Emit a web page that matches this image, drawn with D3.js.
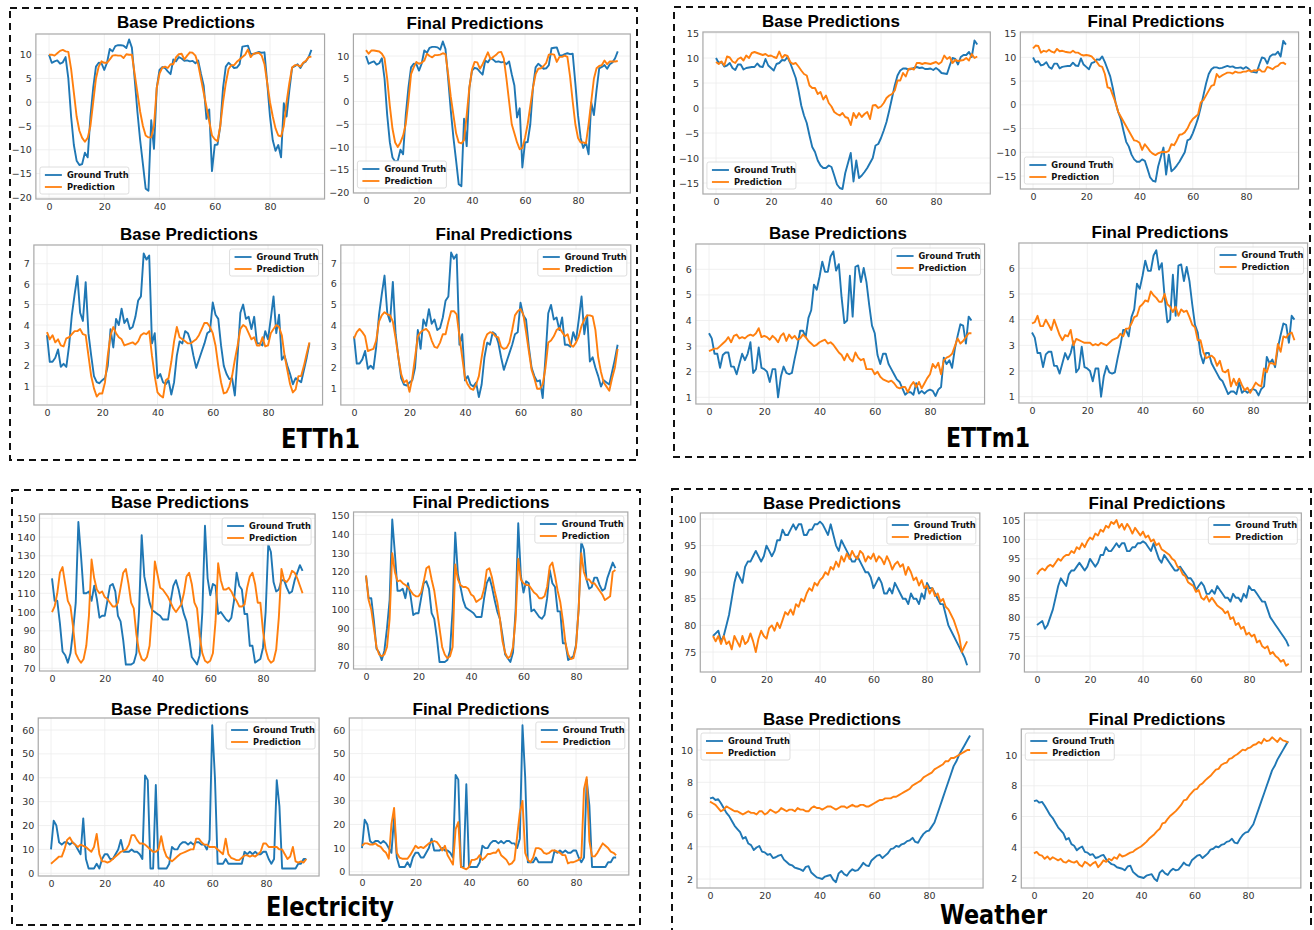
<!DOCTYPE html>
<html>
<head>
<meta charset="utf-8">
<script src="https://cdn.jsdelivr.net/npm/d3@7"></script>
<style>
body { margin: 0; background: #fff; }
svg text { font-family: "DejaVu Sans", sans-serif; }
</style>
</head>
<body>
<svg id="fig" width="1314" height="930"></svg>
<script>
// ---- ETTh1 ----
var etth1Truth1 = [10,8.3,8.6,8.8,8.1,8.4,9.5,5,-3,-9,
  -12.3,-13.2,-13,-10.6,-11.6,-3,3,7.5,8.3,8.2,
  6.8,8.3,11.2,10.7,11.8,12,12,11.9,11.4,13.2,
  11.5,5,-2,-8,-13,-18.2,-18.6,-3.8,-9.8,3,
  6.8,7.4,7.2,6.5,5.9,9,8.6,9.5,9.2,8.7,
  8.8,8.6,8.7,8.2,8.8,6,3.5,-3.5,-1.5,-14.5,
  -9,-8.9,-5,3,7.5,8.3,7.8,7.2,7.3,8,
  11.7,11.8,11.9,10.2,10.1,10.4,10.6,10.4,10.5,4,
  -3,-8,-10.2,-9,-11.6,-0.2,-3,2.5,7.3,7.6,
  8,7.2,8.2,8.6,9.5,11];
var etth1Base1 = [10,10,9.8,10.3,10.8,11,10.7,10.6,7,2,
  -3,-6,-7.5,-8.3,-7.5,-5,0,5,7.5,8.6,
  8.3,8.3,9,9.8,9.9,9.8,9.8,9.3,10.1,10,
  10,6,2,-2,-5,-7,-7.4,-7.4,-5,3,
  6,7.3,7.5,7.2,8,8,9.5,10.1,10.2,9,
  9.8,10.5,10.4,9.8,8,5,2,-1,-4,-7,
  -7.8,-8.2,-5,0,4,7,7.8,7.8,8.5,9,
  9.5,10,11.1,9.5,10.2,10.3,10.4,9.8,8,4,
  0,-3,-5.5,-7,-7.2,-5,0,4,7.3,7.8,
  7.8,7.5,8.3,8.7,9.5,9.6];
var etth1Final1 = [11.3,10.5,11.2,11.2,11.1,11,10.5,9.5,5,-1,
  -6,-9,-10,-9,-7.5,-5,0,6,7.5,8.7,
  8.3,8.5,9,10.5,10,9.7,10.2,10.2,10.3,10.6,
  10.4,6,1,-3,-7,-9,-9.2,-8.5,-3,3,
  7,8.7,8.6,7.2,8.2,9.5,10.8,9.3,9.8,10.2,
  10.8,10.9,9.5,5,0,-5,-7,-9,-10.5,-10.2,
  -8,-5,-1,3,6,7.2,7.3,7.8,8.5,10.3,
  10.4,10.3,8.7,9.8,9.8,10.1,9.8,5.5,0,-5,
  -8,-9,-9,-9.2,-5,0,5,7.3,7.8,8,
  9,8.2,8.8,8.8,8.8,8.9];
var etth1Truth2 = [3.5,2.2,2.2,2.4,2.8,1.95,2.1,1.95,3.0,4.5,
  5.5,6.4,4.6,4.2,6.1,3.6,2.5,1.5,1.2,1.15,
  1.3,1.4,2.0,3.8,2.9,4.3,4.0,4.8,4.1,4.3,
  3.8,3.9,4.4,5.2,5.4,7.5,7.2,7.4,3.1,3.6,
  1.4,1.6,1.2,1.1,1.3,0.6,1.2,2.5,3.2,3.1,
  3.7,3.6,3.2,2.5,1.9,2.3,2.7,3.1,3.6,3.7,
  5.1,4.5,4.3,3.0,2.0,1.6,1.35,1.4,0.55,2.5,
  4.6,5.0,4.3,4.4,3.8,4.4,3.1,3.1,3.0,3.7,
  3.3,4.3,5.4,3.6,4.5,2.3,2.5,2.0,1.6,1.1,
  1.4,1.3,1.2,1.8,2.4,3.1];
var etth1Base2 = [3.65,3.3,3.5,3.15,3.3,3.0,2.95,3.35,3.4,3.55,
  3.7,3.7,3.8,3.55,3.5,2.5,1.5,0.9,0.5,0.65,
  0.65,1.2,2.5,3.5,3.9,3.6,3.4,3.3,3.0,3.05,
  3.1,3.15,3.05,3.2,3.5,3.6,3.55,3.7,2.5,1.5,
  0.7,0.55,0.45,1.3,1.4,2.2,3.2,3.9,3.4,3.3,
  3.2,3.1,3.1,3.2,3.3,3.5,3.8,4.1,4.1,3.9,
  3.6,3.0,2.0,1.2,0.65,0.7,1.0,1.5,2.3,3.0,
  3.8,4.0,3.9,3.6,3.3,3.4,3.0,3.0,3.4,2.95,
  3.0,3.6,3.8,4.0,3.9,3.5,2.5,1.8,1.1,0.7,
  0.85,1.5,1.5,2.0,2.6,3.15];
var etth1Final2 = [3.4,3.7,3.85,3.7,3.5,2.8,2.85,2.9,3.3,4.2,
  4.5,4.65,4.55,4.5,4.2,3.4,2.5,1.7,1.3,1.4,
  0.85,1.5,2.5,3.5,3.7,3.8,3.85,3.7,3.3,3.0,
  2.95,3.2,3.6,3.6,4.2,4.7,4.7,4.55,3.5,2.5,
  1.5,1.2,1.0,0.95,1.2,1.6,2.5,3.3,3.6,3.7,
  3.65,3.5,3.45,3.0,2.9,2.95,3.2,3.8,4.5,4.7,
  4.8,4.55,3.7,2.8,1.9,1.5,1.0,1.0,1.2,2.0,
  3.2,3.3,3.5,3.8,3.9,3.7,3.5,3.6,3.1,3.0,
  3.2,3.5,4.0,4.3,4.5,4.5,4.45,3.8,2.5,1.8,
  1.3,1.1,0.9,1.5,2.0,2.9];

// ---- ETTm1 ----
var ettm1Truth1 = [10,9,9.2,8.3,8.5,9,8,7.6,8.7,8.7,
  7.7,8.0,8.1,8.2,8.2,8.9,8.3,8.2,9.8,8.5,
  8.0,7.5,8.8,9.0,9.6,9.5,10.2,9.0,7.5,6.0,
  3.5,0.5,-1.5,-3.0,-5.5,-7.8,-8.8,-10.5,-11.5,-12.0,
  -12.0,-11.5,-11.8,-13.5,-15.3,-16,-16.2,-13,-11,-9,
  -14.7,-10.5,-14,-13.5,-12.8,-12,-11,-10,-7.5,-7.2,
  -6,-4.5,-2.8,-0.5,2,4.5,6.5,7.5,7.9,7.9,
  7.7,7.8,8.0,8.2,8.0,8.1,7.8,7.8,7.9,7.6,
  8.0,7.6,7.0,6.9,6.8,8.5,10,9.8,8.7,10.2,
  10.6,10.6,11.2,10.2,13.5,12.7];
var ettm1Base1 = [9.2,8.8,9.3,8.5,10.3,10.1,9.3,9.0,9.8,10.1,
  9.5,10.5,10.0,11.0,11.2,11.0,10.8,10.6,10.8,10.4,
  10.5,10.2,10.0,11.3,10.0,10.6,10.4,9.2,8.8,9.0,
  8.3,7.5,6.8,6.5,4.5,4.0,4.0,2.8,3.2,1.7,
  2.5,1.0,0.3,-0.8,-1.2,-1.5,-1.0,-1.8,-2.0,-3.4,
  -1.0,-2.0,-1.0,-1.8,-1.2,-0.8,-2.2,0.5,0.6,0.0,
  0.3,1.0,2.0,2.5,2.8,3.5,5.5,5.5,7.0,6.3,
  7.8,7.9,7.7,9.0,9.0,8.8,9.0,8.9,8.8,9.0,
  9.2,8.8,9.2,10.5,9.8,10.2,9.0,9.6,9.4,9.5,
  9.6,10.0,9.5,10.8,10.0,10.3];
var ettm1Final1 = [11.9,12.5,12.4,11.0,11.4,11.2,11.6,11.2,11.0,11.8,
  11.3,11.4,11.2,11.1,11.0,11.4,11.0,11.0,10.6,10.4,
  10.5,10.4,10.2,9.6,9.0,8.2,8.0,6.5,3.7,3.5,
  2.0,0.5,-1.5,-2.5,-3.5,-4.5,-5.5,-6.5,-7.5,-7.6,
  -8.0,-9.5,-8.3,-9.0,-9.8,-10.3,-10.6,-10.2,-10.0,-9.9,
  -10.0,-9.7,-8.3,-8.5,-7.5,-6.3,-6.2,-5.8,-5.0,-3.8,
  -3.0,-2.5,-2.0,0.5,1.0,2.0,3.0,4.0,4.2,6.5,
  5.8,6.2,6.5,6.8,6.8,6.6,7.0,6.8,6.8,7.0,
  7.0,7.3,7.0,7.3,7.2,7.5,7.0,7.0,8.0,7.8,
  7.5,8.0,8.2,8.8,8.9,8.5];
var ettm1Truth2 = [3.5,3.3,2.7,2.7,2.15,2.65,2.75,2.75,2.2,2.2,
  1.9,2.3,2.7,2.45,2.7,3.15,1.95,2.1,2.95,2.15,
  2.1,2.0,1.6,2.1,2.1,1.0,1.8,2.2,1.95,1.9,
  1.95,2.5,3.0,3.6,3.6,3.35,4.1,4.4,5.4,5.2,
  5.7,6.3,5.9,5.9,6.5,6.7,5.95,6.2,4.9,3.9,
  4.0,5.75,4.15,6.1,6.15,5.5,6.05,5.5,4.6,3.8,
  3.5,2.65,2.3,2.7,2.7,2.3,2.1,1.9,1.7,1.6,
  1.35,1.1,1.2,1.2,1.1,1.55,1.15,1.25,1.15,1.25,
  1.3,1.25,1.05,1.3,1.4,2.55,2.3,2.45,2.15,2.9,
  3.4,3.85,3.8,3.1,4.15,4.0];
var ettm1Base2 = [2.8,2.85,2.9,2.9,3.0,3.1,3.2,3.35,3.15,3.4,
  3.45,3.3,3.35,3.3,3.4,3.45,3.4,3.5,3.7,3.35,
  3.4,3.35,3.25,3.4,3.3,3.15,3.4,3.5,3.2,3.45,
  3.3,3.4,3.25,3.3,3.45,3.35,3.2,3.1,3.0,3.05,
  3.15,3.2,3.25,3.1,3.15,3.05,2.9,2.75,2.65,2.45,
  2.7,2.5,2.4,2.75,2.55,2.45,2.5,2.1,2.1,2.1,
  1.9,2.0,1.8,1.7,1.65,1.6,1.65,1.55,1.4,1.35,
  1.4,1.4,1.2,1.45,1.6,1.4,1.6,1.35,1.55,1.75,
  1.9,2.3,2.15,2.35,1.9,2.45,2.55,2.6,2.7,3.0,
  3.3,3.1,3.2,3.35,3.5,3.5];
var ettm1Final2 = [3.85,3.9,4.15,3.75,3.75,4.0,3.8,3.6,4.0,3.7,
  3.4,3.2,3.4,3.35,3.6,3.0,3.25,3.2,3.15,3.1,
  3.1,3.1,3.0,3.05,3.0,3.1,3.05,3.0,3.1,3.2,
  3.25,3.3,3.45,3.35,3.65,3.65,3.85,4.1,4.15,4.5,
  4.6,4.75,4.7,5.1,4.95,4.85,4.7,4.7,5.0,4.6,
  4.5,4.3,4.5,4.15,4.4,4.3,4.35,4.1,3.8,3.7,
  3.2,3.2,2.75,2.5,2.55,2.6,2.5,2.2,2.4,2.0,
  1.95,2.05,1.4,1.7,1.45,1.7,1.45,1.25,1.35,1.15,
  1.35,1.55,1.45,1.4,2.1,1.95,2.3,2.3,2.25,3.05,
  2.75,3.35,3.3,3.45,3.5,3.2];

// ---- Electricity ----
var elecTruth1 = [118,106,106,94,79,77,73,78,90,105,
  148,130,110,110,111,106,114,107,97,98,
  98,106,114,115,111,98,95,85,72,72,
  72,73,78,100,141,119,112,105,101,100,
  99,98,96,96,96,106,114,117,112,105,
  99,95,86,76,74,72,77,100,146,118,
  109,115,114,99,100,98,96,95,97,106,
  121,114,112,99,99,82,82,73,74,75,
  81,100,136,132,116,111,112,117,117,113,
  110,111,117,121,125,122];
var elecBase1 = [100,103,110,121,124,115,106,103,92,78,
  75,73,75,82,98,128,118,112,110,111,
  108,107,105,103,103,105,113,121,123,115,
  105,102,88,79,75,74,76,82,101,127,
  120,113,112,110,108,105,102,100,102,104,
  110,119,121,115,105,102,87,78,74,73,
  74,78,95,126,117,112,112,113,111,108,
  106,103,103,104,113,119,121,115,105,105,
  90,80,75,73,74,80,97,123,117,116,
  118,122,121,118,114,110];
var elecFinal1 = [118,105,100,90,80,76,75,76,80,95,
  130,120,115,115.5,114,113,112,110,108,107,
  107,109,115,122,123,116,110,100,90,80,
  76,74,75,80,124,116,113,112,112,111,
  108,107,104,105,106,111,121,122,117,110,
  104,95,83,77,74,75,80,95,127,116,
  114,113,113,111,109,108,106,106,107,112,
  123,125,118,110,104,94,82,76,73.5,74,
  80,100,130,120,116,116,114,114,112,110,
  108,105,106,107,120,121];
var elecTruth2 = [10,22,20,13,12,13,13,12,13,12,
  10,8,23,6,2,2,2,4,2,6,
  8,8,6,6,8,10,14,9,9,9,
  10,9,9,8,6,41,39,2,2,37,
  2,2,2,2,4,11,10,10,12,13,
  13,12,13,12,13,13,12,12,10,14,
  62,40,4,4,4,6,4,4,4,4,
  4,4,9,8,9,8,9,8,8,9,
  9,6,4,6,39,28,2,2,2,2,
  2,2,4,4,6,6];
var elecBase2 = [4,5,6,7,7,10,14,15,13,12,
  11,12,11.5,11,10,9,11,16.5,8,5,
  5,4.5,5,6,7,8,9,9.5,10,12,
  16,16,14,12.5,12.5,12,11,10,9,9,
  10,15.5,10,7,6,5,6,7,8,8.5,
  9,9.5,10,10,14.5,14.5,13,12,12,11,
  11,11,10,9,8,14.5,8,6.5,6,5.5,
  5.5,6.5,7.5,7.5,7,7.5,7,8,9,12.5,
  12.5,11,11,11,11,10,10,8,6,7,
  11,5,4.5,5,4.5,6];
var elecFinal2 = [11,12,12,11.5,11.5,12,11,10.5,9,8,
  5.5,20,27,8,6,5.5,5.5,5.5,7,9,
  11,10,10.5,10,11,12,12.5,13,12.5,11,
  9,11,7,5,3,18,21,2,1.5,1,
  2,5,5,5.5,7,5,6,7.5,7.5,8,
  8,9.5,7,6,5,3,3.5,5,15,25,
  30,8,5,4,6,10,10,9.5,8,7.5,
  8,9,9,8.5,8,7,7,3.5,4,4,
  4.5,5,6,35,40,13,6.5,6.5,8,10,
  12,11,10,8.5,8,7];

// ---- Weather ----
var weatherTruth1 = [78,78.5,79,77,78,80,82,85,88,90,
  89,88,91,92,92,93,94,93,92,93,
  95,94,93,94,96,96,98,97,97,98,
  99,98,99,99,97,97,98,98,99,99,
  99.5,99,98,97,99,97,95,94,96,95,
  94,93,92,92,93,92,91,90,90,89,
  87,88,89,88,86,86,87,86,88,87,
  86,85,85,84,86,85,85,84,86,85,
  88,87,87,86,85,84,84,82,80,79,
  78,77,76,75,74,72.5];
var weatherBase1 = [78,77,78,76.5,78,76.5,77,75.5,78,77,
  76,78,76.5,77,78.5,77,75,77.5,79,78,
  77.5,79.5,80,79,80.5,79.5,81,82.5,82,83,
  82,84,83.5,85,84.5,86,87,86.5,88,87.5,
  88.5,89,90,89.5,91,90.5,92,91,93,92,
  93.5,92.5,94,93,92.5,94,93.5,92,93,92.5,
  93.5,92,93,92.5,91.5,93,92,90.5,91.5,92,
  91,91.5,89.5,91,90,88.5,89,87.5,88.5,87,
  87.5,86,87,85.5,86,84.5,85,83.5,83,82,
  81,79.5,78,75,76,77];
var weatherFinal1 = [91,92,92.5,92,93,93.5,93,94,95,94.5,
  95.5,96,96,97,96.5,98,97.5,99,98,99.5,
  100.5,100,101.5,101,102.5,102,103.5,103,104.5,104,
  105,103,104,102.5,104,103,101.5,103,102,101,
  102,100.5,101,99.5,100,98.5,99,97.5,97,96.5,
  96,95,94.5,93,92.5,91,90.5,89,88.5,88,
  86.5,87,85,84.5,85.5,84,85,84,83,82.5,
  82,81,81.5,79.5,80,78,78.5,77,77.5,75.5,
  76,75,75.5,73.5,74,72.5,72,72.5,70.5,71,
  70,69.5,68.5,69,67.5,68];
var weatherTruth2 = [7,7.05,6.9,6.95,6.7,6.4,6.1,5.9,5.6,5.3,
  5.1,4.9,4.5,4.6,4.2,4.1,3.8,3.95,4.05,3.7,
  3.65,3.5,3.55,3.3,3.35,3.45,3.5,3.2,3.05,2.9,
  2.85,2.7,2.65,2.6,2.5,2.75,2.8,2.4,2.25,2.1,
  2.05,2.0,2.15,2.2,2.25,1.95,1.8,2.35,2.5,2.3,
  2.2,2.45,2.6,2.5,2.55,2.75,3.0,2.85,2.8,3.15,
  3.3,3.45,3.5,3.3,3.45,3.6,3.85,3.9,4.05,4.0,
  4.15,4.2,4.35,4.4,4.55,4.3,4.25,4.55,4.8,4.95,
  5.0,5.25,5.5,6.0,6.5,7.0,7.5,8.0,8.5,9.0,
  9.3,9.7,10.0,10.3,10.6,10.9];
var weatherBase2 = [6.8,6.7,6.6,6.4,6.2,6.3,6.5,6.4,6.3,6.2,
  6.2,6.1,6.0,6.1,6.2,6.1,6.1,6.0,6.2,6.2,
  6.0,6.1,6.3,6.2,6.1,6.2,6.4,6.3,6.2,6.3,
  6.3,6.2,6.4,6.3,6.3,6.2,6.2,6.4,6.5,6.4,
  6.4,6.3,6.4,6.5,6.5,6.4,6.3,6.4,6.5,6.5,
  6.4,6.5,6.6,6.5,6.5,6.6,6.6,6.5,6.5,6.6,
  6.7,6.8,6.9,6.9,7.0,7.0,7.0,7.1,7.1,7.2,
  7.3,7.4,7.5,7.6,7.8,7.9,8.0,8.1,8.3,8.4,
  8.5,8.6,8.8,8.9,9.0,9.1,9.3,9.3,9.5,9.5,
  9.6,9.7,9.8,9.9,10.0,10.0];
var weatherFinal2 = [3.6,3.7,3.5,3.45,3.25,3.4,3.2,3.35,3.25,3.15,
  3.25,3.05,3.0,3.15,3.05,3.0,3.1,2.85,2.75,3.05,
  2.95,2.8,2.95,3.05,2.7,2.9,3.15,3.05,3.25,3.15,
  3.35,3.25,3.55,3.4,3.45,3.55,3.65,3.7,3.85,3.95,
  4.05,4.2,4.35,4.55,4.7,4.85,5.05,5.2,5.55,5.6,
  5.85,6.05,6.2,6.35,6.55,6.75,7.05,7.1,7.35,7.55,
  7.75,7.8,8.05,8.15,8.35,8.5,8.65,8.85,9.05,9.1,
  9.35,9.45,9.5,9.75,9.8,9.95,10.05,10.2,10.35,10.3,
  10.45,10.5,10.65,10.7,10.85,10.75,11.05,10.9,10.95,11.15,
  11.0,10.85,11.1,10.95,10.9,10.8];

var xTicks = [0, 20, 40, 60, 80];
var legendLabels = ["Ground Truth", "Prediction"];
var colors = ["#1f77b4", "#ff7f0e"];
var tickFmt = d3.format("~g");

// panel layout: pixel anchors of x=0 / x=80, frame top/bottom, two y reference ticks
var panels = [
  {title: "Base Predictions", tx: 186, ty: 22, truth: etth1Truth1, pred: etth1Base1, x0: 49, x80: 270, top: 34, bottom: 199, yRef: [10, 54.7, -20, 197.3], yTicks: [-20, -15, -10, -5, 0, 5, 10], legend: "ll"},
  {title: "Final Predictions", tx: 475, ty: 23, truth: etth1Truth1, pred: etth1Final1, x0: 366, x80: 578, top: 34, bottom: 193, yRef: [10, 56, -20, 192.5], yTicks: [-20, -15, -10, -5, 0, 5, 10], legend: "ll"},
  {title: "Base Predictions", tx: 189, ty: 234, truth: etth1Truth2, pred: etth1Base2, x0: 47, x80: 268, top: 245, bottom: 405, yRef: [7, 263.7, 1, 386.3], yTicks: [1, 2, 3, 4, 5, 6, 7], legend: "ur"},
  {title: "Final Predictions", tx: 504, ty: 234, truth: etth1Truth2, pred: etth1Final2, x0: 354, x80: 576, top: 245, bottom: 405, yRef: [7, 263, 1, 388.7], yTicks: [1, 2, 3, 4, 5, 6, 7], legend: "ur"},

  {title: "Base Predictions", tx: 831, ty: 21, truth: ettm1Truth1, pred: ettm1Base1, x0: 716, x80: 936, top: 32, bottom: 194, yRef: [15, 33, -15, 183], yTicks: [-15, -10, -5, 0, 5, 10, 15], legend: "ll"},
  {title: "Final Predictions", tx: 1156, ty: 21, truth: ettm1Truth1, pred: ettm1Final1, x0: 1033, x80: 1246, top: 32, bottom: 189, yRef: [15, 33.7, -15, 176], yTicks: [-15, -10, -5, 0, 5, 10, 15], legend: "ll"},
  {title: "Base Predictions", tx: 838, ty: 233, truth: ettm1Truth2, pred: ettm1Base2, x0: 709, x80: 930, top: 244, bottom: 404, yRef: [6, 269.3, 1, 397.3], yTicks: [1, 2, 3, 4, 5, 6], legend: "ur"},
  {title: "Final Predictions", tx: 1160, ty: 232, truth: ettm1Truth2, pred: ettm1Final2, x0: 1032, x80: 1253, top: 243, bottom: 403, yRef: [6, 268.3, 1, 396.7], yTicks: [1, 2, 3, 4, 5, 6], legend: "ur"},

  {title: "Base Predictions", tx: 180, ty: 502, truth: elecTruth1, pred: elecBase1, x0: 52, x80: 263, top: 514, bottom: 671, yRef: [150, 518.3, 70, 668.3], yTicks: [70, 80, 90, 100, 110, 120, 130, 140, 150], legend: "ur"},
  {title: "Final Predictions", tx: 481, ty: 502, truth: elecTruth1, pred: elecFinal1, x0: 366, x80: 576, top: 512, bottom: 669, yRef: [150, 515.7, 70, 665.7], yTicks: [70, 80, 90, 100, 110, 120, 130, 140, 150], legend: "ur"},
  {title: "Base Predictions", tx: 180, ty: 709, truth: elecTruth2, pred: elecBase2, x0: 51, x80: 266, top: 718, bottom: 876, yRef: [60, 730, 0, 873.3], yTicks: [0, 10, 20, 30, 40, 50, 60], legend: "ur"},
  {title: "Final Predictions", tx: 481, ty: 709, truth: elecTruth2, pred: elecFinal2, x0: 362, x80: 576, top: 718, bottom: 875, yRef: [60, 730, 0, 871.7], yTicks: [0, 10, 20, 30, 40, 50, 60], legend: "ur"},

  {title: "Base Predictions", tx: 832, ty: 503, truth: weatherTruth1, pred: weatherBase1, x0: 713, x80: 927, top: 513, bottom: 672, yRef: [100, 519, 75, 652], yTicks: [75, 80, 85, 90, 95, 100], legend: "ur"},
  {title: "Final Predictions", tx: 1157, ty: 503, truth: weatherTruth1, pred: weatherFinal1, x0: 1037, x80: 1249, top: 513, bottom: 672, yRef: [105, 520, 70, 656], yTicks: [70, 75, 80, 85, 90, 95, 100, 105], legend: "ur"},
  {title: "Base Predictions", tx: 832, ty: 719, truth: weatherTruth2, pred: weatherBase2, x0: 710, x80: 929, top: 729, bottom: 888, yRef: [10, 750, 2, 879], yTicks: [2, 4, 6, 8, 10], legend: "ul"},
  {title: "Final Predictions", tx: 1157, ty: 719, truth: weatherTruth2, pred: weatherFinal2, x0: 1034, x80: 1248, top: 729, bottom: 888, yRef: [10, 755, 2, 878], yTicks: [2, 4, 6, 8, 10], legend: "ul"}
];

var boxes = [
  {label: "ETTh1", x: 10, y: 8, w: 627, h: 452, lx: 320.5, ly: 438, lw: 79},
  {label: "ETTm1", x: 674, y: 7, w: 636, h: 450, lx: 988, ly: 437, lw: 84},
  {label: "Electricity", x: 12, y: 490, w: 628, h: 435, lx: 330, ly: 906, lw: 128},
  {label: "Weather", x: 672, y: 489, w: 639, h: 460, lx: 993.5, ly: 914, lw: 107}
];

var svg = d3.select("#fig");
svg.append("rect").attr("width", 1314).attr("height", 930).attr("fill", "#fff");

// dashed group boxes + dataset names
boxes.forEach(function(b) {
  svg.append("rect")
    .attr("x", b.x).attr("y", b.y)
    .attr("width", b.w).attr("height", b.h)
    .attr("fill", "none")
    .attr("stroke", "#111")
    .attr("stroke-width", 2)
    .attr("stroke-dasharray", "7,5");
  svg.append("text")
    .attr("x", b.lx).attr("y", b.ly)
    .attr("text-anchor", "middle")
    .attr("dominant-baseline", "central")
    .attr("textLength", b.lw)
    .attr("lengthAdjust", "spacingAndGlyphs")
    .style("font-size", "27px")
    .style("font-weight", "bold")
    .style("fill", "#000")
    .text(b.label);
});

panels.forEach(function(p) {
  var x = d3.scaleLinear().domain([0, 80]).range([p.x0, p.x80]);
  var y = d3.scaleLinear().domain([p.yRef[0], p.yRef[2]]).range([p.yRef[1], p.yRef[3]]);
  var left = x(-4.75), right = x(99.75);
  var g = svg.append("g");

  // grid
  g.selectAll(".vg").data(xTicks).enter().append("line")
    .attr("x1", function(d) { return x(d); }).attr("x2", function(d) { return x(d); })
    .attr("y1", p.top).attr("y2", p.bottom)
    .attr("stroke", "#ececec").attr("stroke-width", 0.8);
  g.selectAll(".hg").data(p.yTicks).enter().append("line")
    .attr("x1", left).attr("x2", right)
    .attr("y1", function(d) { return y(d); }).attr("y2", function(d) { return y(d); })
    .attr("stroke", "#ececec").attr("stroke-width", 0.8);

  // axes
  var xa = g.append("g")
    .attr("transform", "translate(0," + p.bottom + ")")
    .call(d3.axisBottom(x).tickValues(xTicks).tickFormat(tickFmt).tickSize(0).tickPadding(4));
  var ya = g.append("g")
    .attr("transform", "translate(" + left + ",0)")
    .call(d3.axisLeft(y).tickValues(p.yTicks).tickFormat(tickFmt).tickSize(0).tickPadding(4));
  [xa, ya].forEach(function(a) {
    a.select(".domain").remove();
    a.selectAll("text").style("font-size", "9.5px").style("fill", "#333")
      .style("font-family", "'DejaVu Sans', sans-serif");
  });

  // lines
  var line = d3.line()
    .x(function(d, i) { return x(i); })
    .y(function(d) { return y(d); });
  [p.truth, p.pred].forEach(function(series, k) {
    g.append("path")
      .datum(series)
      .attr("d", line)
      .attr("fill", "none")
      .attr("stroke", colors[k])
      .attr("stroke-width", 1.9)
      .attr("stroke-linejoin", "round");
  });

  // frame
  g.append("rect")
    .attr("x", left).attr("y", p.top)
    .attr("width", right - left).attr("height", p.bottom - p.top)
    .attr("fill", "none").attr("stroke", "#a8a8a8").attr("stroke-width", 1.2);

  // title
  g.append("text")
    .attr("x", p.tx).attr("y", p.ty)
    .attr("text-anchor", "middle")
    .attr("dominant-baseline", "central")
    .style("font-family", "'Liberation Sans', Arial, sans-serif")
    .style("font-size", "17px")
    .style("font-weight", "bold")
    .text(p.title);

  // legend
  var lw = 89, lh = 27;
  var lx = p.legend === "ur" ? right - 4 - lw : left + 4;
  var ly = p.legend === "ll" ? p.bottom - 5 - lh : p.top + 4;
  var lg = g.append("g").attr("transform", "translate(" + lx + "," + ly + ")");
  lg.append("rect")
    .attr("width", lw).attr("height", lh).attr("rx", 2)
    .attr("fill", "#fff").attr("fill-opacity", 0.85)
    .attr("stroke", "#d6d6d6").attr("stroke-width", 0.8);
  legendLabels.forEach(function(name, k) {
    var yy = 8 + k * 12;
    lg.append("line")
      .attr("x1", 5).attr("x2", 22).attr("y1", yy).attr("y2", yy)
      .attr("stroke", colors[k]).attr("stroke-width", 1.8);
    lg.append("text")
      .attr("x", 27).attr("y", yy)
      .attr("dominant-baseline", "central")
      .style("font-size", "8.3px")
      .style("font-weight", "bold")
      .style("fill", "#111")
      .text(name);
  });
});
</script>
</body>
</html>
